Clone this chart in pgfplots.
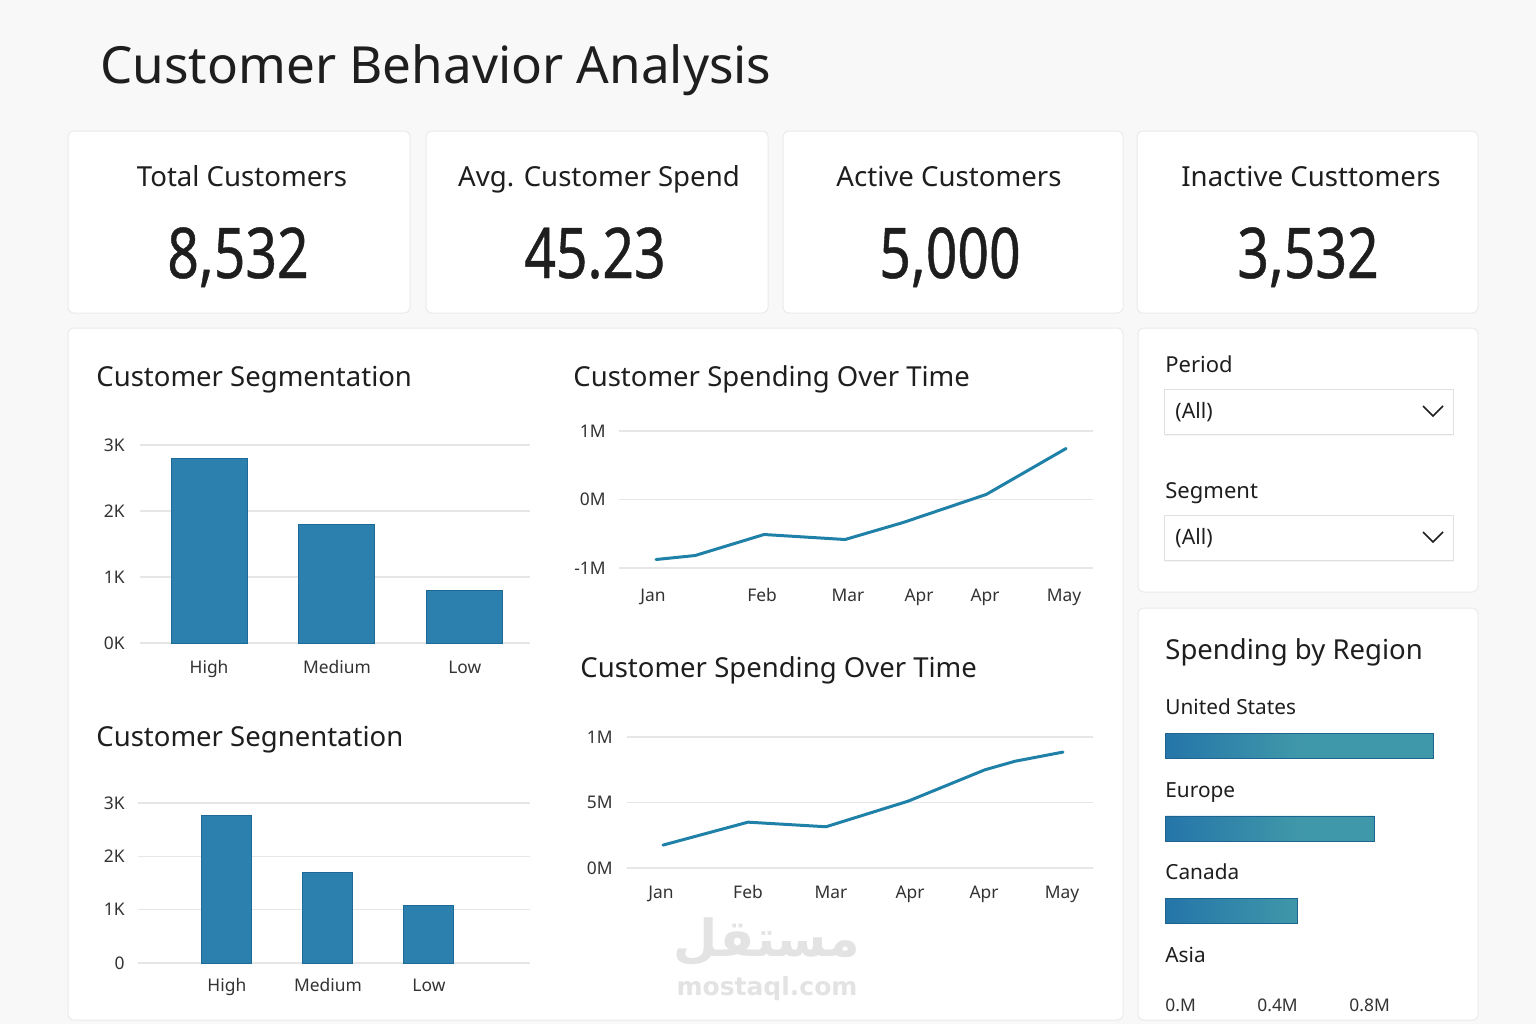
\documentclass[border=0pt]{standalone}
\usepackage{pgfplots}
\pgfplotsset{compat=1.18}
\usepackage{fontspec}
\setmainfont{Noto Sans}
\newfontfamily\numfont[FakeStretch=0.79, FakeBold=0.6]{Noto Sans}
\newfontfamily\wmfont{DejaVu Sans}
\newfontfamily\arabicfont[Script=Arabic]{DejaVu Sans}
\TeXXeTstate=1

\definecolor{bg}{HTML}{F8F8F8}
\definecolor{cardline}{HTML}{EBEBEB}
\definecolor{barfill}{HTML}{2C80AD}
\definecolor{baredge}{HTML}{1D6A98}
\definecolor{linec}{HTML}{2081A8}
\definecolor{gridc}{HTML}{E6E6E6}
\definecolor{ink}{HTML}{1E1E1E}
\definecolor{tickc}{HTML}{333333}
\definecolor{regL}{HTML}{2575A9}
\definecolor{regR}{HTML}{3F98A9}
\definecolor{mark}{HTML}{E3E3E3}

\pgfplotsset{
  panel/.style={
    scale only axis, anchor=south west, clip=false,
    axis line style={draw=none},
    major tick length=0pt,
    ymajorgrids, major grid style={gridc, line width=0.6pt},
    tick label style={font=\fontsize{8.7}{10}\selectfont, text=tickc, inner sep=0pt},
    xticklabel style={anchor=base},
  },
}

\begin{document}
\begin{tikzpicture}
% page, cards and static text (pixel grid: 1px = 0.5pt, y downwards)
\begin{scope}[x=0.5pt, y=-0.5pt]
  \fill[bg] (0,0) rectangle (1536,1024);
  \tikzset{card/.style={fill=white, draw=cardline, line width=0.5pt, rounded corners=3pt}}
  \path[card] (68,131) rectangle (410,313);
  \path[card] (426,131) rectangle (768,313);
  \path[card] (783,131) rectangle (1123,313);
  \path[card] (1137,131) rectangle (1478,313);
  \path[card] (68,328) rectangle (1123,1020);
  \path[card] (1138,328) rectangle (1478,592);
  \path[card] (1138,608) rectangle (1478,1020);

  \node[anchor=base west, inner sep=0pt, text=ink, font=\fontsize{25.6}{30}\selectfont] at (100,83) {Customer Behavior Analysis};

  % KPI tiles
  \foreach \cx/\nx/\lab/\val in {242/238/Total Customers/{8,532}, 599/595/Avg. Customer Spend/45.23, 949/950/Active Customers/{5,000}, 1311/1308/Inactive Custtomers/{3,532}}{
    \node[anchor=base, inner sep=0pt, text=ink, font=\fontsize{13.8}{16}\selectfont] at (\cx,186) {\lab};
    \node[anchor=base, inner sep=0pt, text=ink, font=\numfont\fontsize{35}{40}\selectfont] at (\nx,278) {\val};
  }

  % chart titles
  \tikzset{ttl/.style={anchor=base west, inner sep=0pt, text=ink, font=\fontsize{13.75}{17}\selectfont}}
  \node[ttl] at (96,386) {Customer Segmentation};
  \node[ttl] at (96,746) {Customer Segnentation};
  \node[ttl] at (573,386) {Customer Spending Over Time};
  \node[ttl] at (580,677) {Customer Spending Over Time};
  \node[ttl] at (1165,659) {Spending by Region};

  % slicers
  \tikzset{slab/.style={anchor=base west, inner sep=0pt, text=ink, font=\fontsize{11}{13}\selectfont},
           sval/.style={anchor=base west, inner sep=0pt, text=ink, font=\fontsize{10.6}{13}\selectfont}}
  \node[slab] at (1165,372) {Period};
  \node[slab] at (1165,498) {Segment};
  \foreach \top in {389,515}{
    \fill[black!4] (1165,\top+2) rectangle (1454,\top+47);
    \filldraw[fill=white, draw=black!12, line width=0.5pt] (1164,\top) rectangle (1453,\top+45);
    \draw[ink, line width=0.8pt] (1423,\top+17) -- (1433,\top+27) -- (1443,\top+17);
    \node[sval] at (1175,\top+29) {(All)};
  }

  % watermark
  \node[text=mark, font=\arabicfont\bfseries\fontsize{25.5}{30}\selectfont, inner sep=0pt] at (767,942) {\beginR مستقل\endR};
  \node[text=mark, font=\wmfont\bfseries\fontsize{12.5}{15}\selectfont, inner sep=0pt] at (767,989) {mostaql.com};
\end{scope}

% Customer Segmentation (top)
\begin{axis}[panel, at={(70pt,-321.5pt)}, width=195pt, height=99pt,
  xmin=-0.54, xmax=2.51, ymin=0, ymax=3,
  ytick={0,1,2,3}, yticklabels={0K,1K,2K,3K},
  xtick={0,1,2}, xticklabels={High,Medium,Low},
  yticklabel style={anchor=east, xshift=-7.5pt},
  xticklabel style={yshift=-15pt},
  ybar, bar width=38pt]
  \addplot[fill=barfill, draw=baredge, line width=0.5pt] coordinates {(0,2.80) (1,1.79) (2,0.80)};
\end{axis}

% Customer Segnentation (bottom)
\begin{axis}[panel, at={(69pt,-481.5pt)}, width=196pt, height=80pt,
  xmin=-0.88, xmax=3.0, ymin=0, ymax=3,
  ytick={0,1,2,3}, yticklabels={0,1K,2K,3K},
  xtick={0,1,2}, xticklabels={High,Medium,Low},
  yticklabel style={anchor=east, xshift=-6.5pt},
  xticklabel style={yshift=-14pt},
  ybar, bar width=25pt]
  \addplot[fill=barfill, draw=baredge, line width=0.5pt] coordinates {(0,2.76) (1,1.69) (2,1.07)};
\end{axis}

% Customer Spending Over Time (top)
\begin{axis}[panel, at={(309.5pt,-284pt)}, width=237pt, height=68.5pt,
  xmin=0, xmax=474, ymin=-1, ymax=1,
  ytick={-1,0,1}, yticklabels={-1M,0M,1M},
  xtick={34,143,229,300,366,445}, xticklabels={Jan,Feb,Mar,Apr,Apr,May},
  yticklabel style={anchor=east, xshift=-6.5pt},
  xticklabel style={yshift=-16.5pt}]
  \addplot[linec, line width=1.5pt, line join=round, line cap=round, mark=none]
    coordinates {(37,-0.876) (76,-0.818) (145,-0.511) (226,-0.584) (284,-0.336) (367,0.073) (447,0.745)};
\end{axis}

% Customer Spending Over Time (bottom)
\begin{axis}[panel, at={(313.5pt,-434pt)}, width=233pt, height=65.5pt,
  xmin=0, xmax=466, ymin=0, ymax=2,
  ytick={0,1,2}, yticklabels={0M,5M,1M},
  xtick={34,121,204,283,357,435}, xticklabels={Jan,Feb,Mar,Apr,Apr,May},
  yticklabel style={anchor=east, xshift=-7pt},
  xticklabel style={yshift=-15pt}]
  \addplot[linec, line width=1.5pt, line join=round, line cap=round, mark=none]
    coordinates {(36,0.35) (121,0.70) (199,0.63) (281,1.02) (358,1.50) (388,1.63) (436,1.77)};
\end{axis}

% Spending by Region
\begin{axis}[panel, at={(582.5pt,-495pt)}, width=144pt, height=135pt,
  ymajorgrids=false,
  xmin=0, xmax=1.252, ymin=0.042, ymax=3.315,
  ytick=\empty,
  xtick={0,0.4,0.8}, xticklabels={0.M,0.4M,0.8M},
  xticklabel style={anchor=base west, yshift=-10.5pt},
  xbar, bar width=12.5pt]
  \addplot[left color=regL, right color=regR, middle color=regR, draw=regL!85!black, line width=0.4pt]
    coordinates {(1.165,3) (0.909,2) (0.574,1)};
  \foreach \yy/\name in {3/United States, 2/Europe, 1/Canada, 0/Asia}{
    \edef\tmp{\noexpand\node[anchor=base west, inner sep=0pt, text=ink, font=\noexpand\fontsize{10.4}{12}\noexpand\selectfont, yshift=15.5pt] at (axis cs:0,\yy) {\name};}
    \tmp
  }
\end{axis}
\end{tikzpicture}
\end{document}
